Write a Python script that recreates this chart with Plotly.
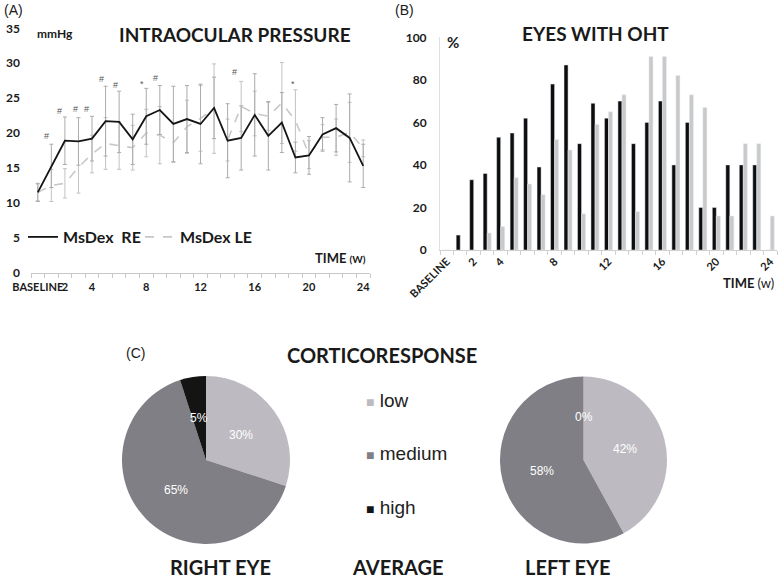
import math
import plotly.graph_objects as go

# ---------------- data ----------------
weeks = ["BASELINE", "1", "2", "3", "4", "5", "6", "7", "8", "9", "10", "11", "12",
         "13", "14", "15", "16", "17", "18", "19", "20", "21", "22", "23", "24"]
week_ticktext = ["BASELINE", "", "2", "", "4", "", "", "", "8", "", "", "", "12",
                 "", "", "", "16", "", "", "", "20", "", "", "", "24"]

iop_re = [11.5, 15.3, 18.9, 18.8, 19.2, 21.7, 21.6, 19.1, 22.4, 23.3, 21.3, 22.0, 21.3,
          23.6, 18.9, 19.3, 22.6, 19.6, 21.5, 16.5, 16.8, 19.8, 20.7, 19.3, 15.3]
iop_re_sd = [1.3, 3.1, 3.4, 3.4, 3.2, 5.0, 4.4, 3.6, 4.0, 3.5, 5.4, 4.8, 5.7,
             4.4, 5.3, 4.6, 5.9, 4.9, 4.3, 2.2, 2.7, 2.4, 3.4, 6.3, 3.1]
iop_le = [11.5, 12.5, 12.8, 15.1, 17.0, 18.5, 18.2, 17.9, 20.0, 19.7, 18.6, 20.9, 22.1,
          23.5, 19.0, 23.8, 22.8, 22.4, 24.3, 21.8, 16.9, 19.4, 19.4, 20.1, 17.8]
iop_le_sd = [1.2, 2.3, 2.1, 3.7, 2.7, 3.7, 3.4, 3.2, 3.4, 4.1, 2.8, 3.8, 4.7,
             6.4, 3.0, 3.6, 3.2, 2.0, 5.8, 4.4, 2.0, 1.8, 2.6, 4.3, 1.2]

sig_pos = [0.65, 1.6, 2.8, 3.6, 4.7, 5.75, 7.7, 8.7, 14.5, 18.8]
sig_height = [19.6, 23.2, 23.4, 23.4, 27.8, 26.9, 27.0, 27.9, 28.7, 27.0]
sig_symbol = ["#", "#", "#", "#", "#", "#", "*", "#", "#", "*"]

oht_re = [0, 7, 33, 36, 53, 55, 62, 39, 78, 87, 50, 69, 62, 70, 50, 60, 70, 40, 60, 20, 20, 40, 40, 40, 0]
oht_le = [0, 0, 0, 8, 11, 34, 31, 26, 52, 47, 17, 59, 65, 73, 18, 91, 91, 82, 73, 67, 16, 16, 50, 50, 16]

response_levels = ["low", "medium", "high"]
right_eye = [30, 65, 5]
left_eye = [42, 58, 0]
level_colors = ["#bdbbc1", "#807f85", "#141414"]

# ---------------- layout helpers ----------------
W, H = 781, 580
def px(x):
    return x / W
def py(y):
    return 1 - y / H

BOLD = "Lato"
ARIAL = "Liberation Sans"
TXT = "#1a1a1a"

fig = go.Figure()

# Panel A: intraocular pressure
fig.add_trace(go.Scatter(
    x=weeks, y=iop_le, name="MsDex LE", mode="lines",
    line=dict(color="#c8c8c8", width=1.6, dash="dash"),
    error_y=dict(type="data", array=iop_le_sd, visible=True, color="#c2c2c2", thickness=1, width=2),
    xaxis="x", yaxis="y"))
fig.add_trace(go.Scatter(
    x=weeks, y=iop_re, name="MsDex  RE", mode="lines",
    line=dict(color="#151515", width=1.8),
    error_y=dict(type="data", array=iop_re_sd, visible=True, color="#ababab", thickness=1, width=2),
    xaxis="x", yaxis="y"))

# Panel B: eyes with OHT
fig.add_trace(go.Bar(x=weeks, y=oht_re, name="RE", marker_color="#0d0d0d",
                     showlegend=False, xaxis="x2", yaxis="y2"))
fig.add_trace(go.Bar(x=weeks, y=oht_le, name="LE", marker_color="#c9c9c9",
                     showlegend=False, xaxis="x2", yaxis="y2"))

# Panel C: pies (slices drawn by plotly, percentage labels placed Excel-like at half radius)
pies = [("RIGHT EYE", right_eye, 206.0, 460.0, 84.0),
        ("LEFT EYE", left_eye, 583.5, 460.0, 83.5)]

ann = []
for name, vals, cx, cy, r in pies:
    fig.add_trace(go.Pie(
        values=vals, labels=response_levels, name=name, sort=False,
        direction="clockwise", rotation=0,
        marker=dict(colors=level_colors, line=dict(width=0)),
        textinfo="none", showlegend=False, hoverinfo="label+percent",
        domain=dict(x=[px(cx - r), px(cx + r)], y=[py(cy + r), py(cy - r)])))
    total = float(sum(vals))
    cum = 0.0
    for v in vals:
        mid = 2 * math.pi * (cum + v / 2.0) / total
        cum += v
        lx = cx + 0.51 * r * math.sin(mid)
        ly = cy - 0.51 * r * math.cos(mid)
        ann.append(dict(text="%d%%" % round(100 * v / total), x=px(lx), y=py(ly),
                        xref="paper", yref="paper", showarrow=False,
                        xanchor="center", yanchor="middle",
                        font=dict(family=ARIAL, size=12, color="white")))

def add_text(text, x, y, size, family=BOLD, xanchor="center", yanchor="middle", color=TXT, weight="bold"):
    ann.append(dict(text=text, x=px(x), y=py(y), xref="paper", yref="paper",
                    xanchor=xanchor, yanchor=yanchor, showarrow=False,
                    font=dict(family=family, size=size, color=color, weight=weight)))

add_text("(A)", 2, 10, 14, family=ARIAL, xanchor="left", weight="normal")
add_text("(B)", 393, 10, 14, family=ARIAL, xanchor="left", weight="normal")
add_text("(C)", 124, 353, 14, family=ARIAL, xanchor="left", weight="normal")
add_text("INTRAOCULAR PRESSURE", 235, 35, 19)
add_text("mmHg", 35, 33, 12, xanchor="left")
add_text("TIME <span style='font-size:10px'>(W)</span>", 368, 258, 13, xanchor="right")
add_text("EYES WITH OHT", 595, 33, 19)
add_text("%", 445, 42, 15, xanchor="left")
add_text("TIME <span style='font-weight:normal'>(w)</span>", 776, 283, 13, xanchor="right")
add_text("CORTICORESPONSE", 382, 355, 20)
add_text("RIGHT EYE", 220, 567, 20)
add_text("AVERAGE", 397, 567, 20)
add_text("LEFT EYE", 567, 567, 20)

legend_rows = [400, 453, 507]
for lvl, col, yy in zip(response_levels, level_colors, legend_rows):
    add_text("<span style='font-size:14px;color:%s'>■</span> %s" % (col, lvl),
             364, yy, 19, family=ARIAL, xanchor="left", weight="normal", color="#222")

for xp, yv, s in zip(sig_pos, sig_height, sig_symbol):
    ann.append(dict(text=s, x=xp, y=yv, xref="x", yref="y", showarrow=False,
                    font=dict(family=ARIAL, size=9, color="#555")))

tickfont = dict(family=BOLD, size=12, color=TXT, weight="bold")
xtickfont = dict(family=BOLD, size=11, color=TXT, weight="bold")

fig.update_layout(
    width=W, height=H, margin=dict(l=0, r=0, t=0, b=0, autoexpand=False),
    paper_bgcolor="white", plot_bgcolor="white",
    font=dict(family=BOLD, color=TXT),
    annotations=ann,
    barmode="group", bargap=0.4, bargroupgap=0,
    xaxis=dict(domain=[px(31), px(370)], type="category", automargin=False,
               categoryorder="array", categoryarray=weeks,
               range=[-0.5, 24.5], tickmode="array", tickvals=weeks, ticktext=week_ticktext,
               tickangle=0, ticks="outside", tickson="boundaries", ticklen=4,
               ticklabelstandoff=4,
               tickcolor="#c8c8c8", showline=True, linecolor="#c8c8c8", linewidth=1,
               showgrid=False, zeroline=False, tickfont=xtickfont),
    yaxis=dict(domain=[py(272.7), py(28.3)], range=[0, 35], dtick=5, automargin=False,
               showgrid=False, zeroline=False, showline=False, ticks="",
               ticklabelstandoff=10, tickfont=tickfont, anchor="x"),
    xaxis2=dict(domain=[px(440), px(777)], type="category", automargin=False,
                categoryorder="array", categoryarray=weeks,
                range=[-0.5, 24.5], tickmode="array", tickvals=weeks, ticktext=week_ticktext,
                tickangle=-45, ticks="outside", tickson="boundaries", ticklen=4,
                tickcolor="#d0d0d0", showline=True, linecolor="#d0d0d0", linewidth=1,
                showgrid=False, zeroline=False, tickfont=xtickfont, anchor="y2"),
    yaxis2=dict(domain=[py(250), py(37.3)], range=[0, 100], dtick=20, automargin=False,
                showgrid=False, zeroline=False, showline=True, linecolor="#e0e0e0",
                ticks="", ticklabelstandoff=10, tickfont=tickfont, anchor="x2"),
    legend=dict(x=px(23), y=py(237), xanchor="left", yanchor="middle",
                orientation="h", traceorder="reversed", entrywidth=72,
                font=dict(family=BOLD, size=16, color=TXT, weight="bold"),
                bgcolor="rgba(0,0,0,0)"),
)

fig.write_html("out.html", config={"displayModeBar": False},
               post_script="document.body.style.margin='0px';document.body.style.overflow='hidden';")
